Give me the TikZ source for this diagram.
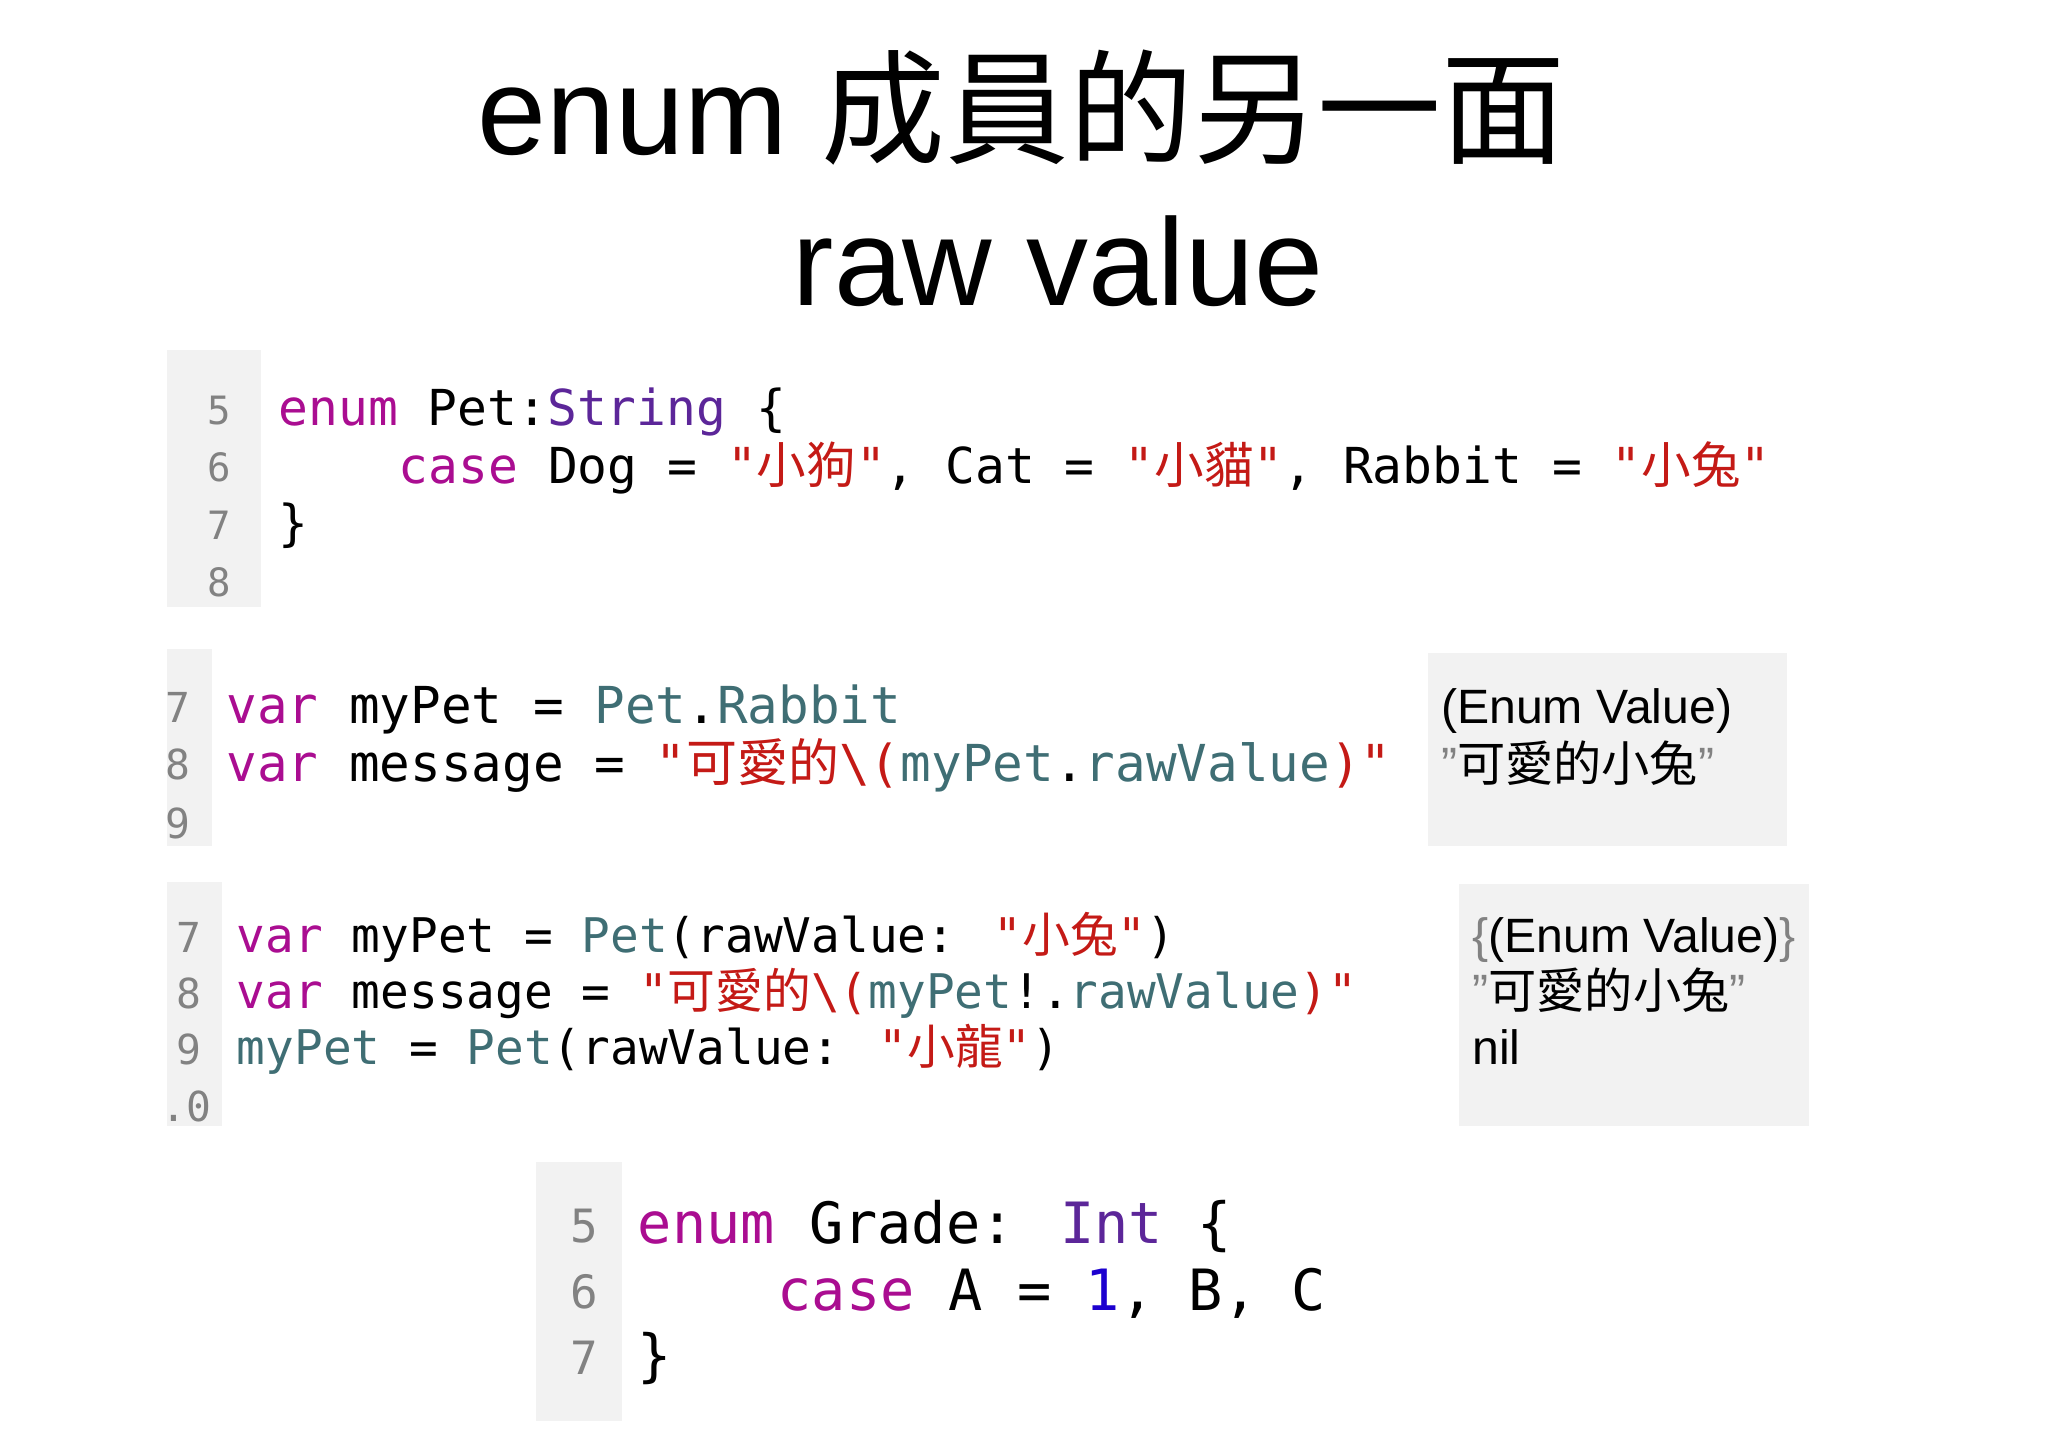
\documentclass[tikz,border=0pt]{standalone}
\usepackage{fontspec}
\setmainfont{Liberation Sans}
\newfontfamily\cjk{Noto Sans CJK TC}
\newfontfamily\mono{DejaVu Sans Mono}
\newcommand\CJ[1]{{\cjk #1}}
\definecolor{kwc}{RGB}{170,13,145}
\definecolor{tyc}{RGB}{92,38,153}
\definecolor{stc}{RGB}{196,26,22}
\definecolor{nmc}{RGB}{28,0,207}
\definecolor{tlc}{RGB}{63,110,116}
\definecolor{gut}{RGB}{242,242,242}
\definecolor{lnc}{RGB}{130,130,130}
\newcommand\kw[1]{\textcolor{kwc}{#1}}
\newcommand\ty[1]{\textcolor{tyc}{#1}}
\newcommand\st[1]{\textcolor{stc}{#1}}
\newcommand\nm[1]{\textcolor{nmc}{#1}}
\newcommand\tl[1]{\textcolor{tlc}{#1}}
\newcommand\bs{\symbol{92}}
\newcommand\gq{\textcolor{lnc}{\symbol{34}}}
\begin{document}
\begin{tikzpicture}[x=0.02cm,y=-0.02cm,
  cA/.style={anchor=base west,inner sep=0,font=\mono\fontsize{21.6}{24}\selectfont},
  cB/.style={anchor=base west,inner sep=0,font=\mono\fontsize{22.2}{26}\selectfont},
  cC/.style={anchor=base west,inner sep=0,font=\mono\fontsize{20.8}{24}\selectfont},
  cD/.style={anchor=base west,inner sep=0,font=\mono\fontsize{24.8}{28}\selectfont},
  lnA/.style={cA,anchor=base,text=lnc,font=\mono\fontsize{17}{20}\selectfont},
  lnB/.style={lnA,font=\mono\fontsize{18}{20}\selectfont},
  lnD/.style={lnA,font=\mono\fontsize{20}{22}\selectfont},
  res/.style={anchor=base west,inner sep=0,font=\fontsize{21}{24}\selectfont},
  gbox/.style={fill=gut,draw=none}]
\useasboundingbox (0,0) rectangle (1568,1108);
\fill[white] (0,0) rectangle (1568,1108);
% title
\node[inner sep=0,font=\fontsize{54}{60}\selectfont] (t1) at (782,82) {enum \CJ{成員的另一面}};
\node[inner sep=0,font=\fontsize{54}{60}\selectfont] (t2) at (810,200) {raw value};
% block 1
\fill[gbox] (128,268) rectangle (200,465);
\node[lnA] (a5) at (168,325) {5};
\node[lnA] (a6) at (168,369) {6};
\node[lnA] (a7) at (168,413) {7};
\node[lnA] (a8) at (168,457) {8};
\node[cA] (l1) at (213,326) {\kw{enum} Pet:\ty{String} \{};
\node[cA] (l2) at (305,370) {\kw{case} Dog = \st{"\CJ{小狗}"}, Cat = \st{"\CJ{小貓}"}, Rabbit = \st{"\CJ{小兔}"}};
\node[cA] (l3) at (213,414) {\}};
% block 2
\fill[gbox] (128,497) rectangle (162,648);
\node[lnB] (b7) at (136,553) {7};
\node[lnB] (b8) at (136,597) {8};
\node[lnB] (b9) at (136,642) {9};
\node[cB] (m1) at (173,554) {\kw{var} myPet = \tl{Pet}.\tl{Rabbit}};
\node[cB] (m2) at (173,598) {\kw{var} message = \st{"\CJ{可愛的}\bs(}\tl{myPet}.\tl{rawValue}\st{)"}};
\fill[gbox] (1093,500) rectangle (1368,648);
\node[res] (r1) at (1103,554) {(Enum Value)};
\node[res] (r2) at (1103,598) {\gq\CJ{可愛的小兔}\gq};
% block 3
\fill[gbox] (128,675) rectangle (170,862);
\node[lnB] (c7) at (145,729) {7};
\node[lnB] (c8) at (145,772) {8};
\node[lnB] (c9) at (145,815) {9};
\node[lnB] (c0) at (143,859) {.0};
\node[cC] (n1) at (181,729) {\kw{var} myPet = \tl{Pet}(rawValue: \st{"\CJ{小兔}"})};
\node[cC] (n2) at (181,772) {\kw{var} message = \st{"\CJ{可愛的}\bs(}\tl{myPet}!.\tl{rawValue}\st{)"}};
\node[cC] (n3) at (181,815) {\tl{myPet} = \tl{Pet}(rawValue: \st{"\CJ{小龍}"})};
\fill[gbox] (1117,677) rectangle (1385,862);
\node[res] (s1) at (1127,729) {\textcolor{lnc}{\{}(Enum Value)\textcolor{lnc}{\}}};
\node[res] (s2) at (1127,772) {\gq\CJ{可愛的小兔}\gq};
\node[res] (s3) at (1127,815) {nil};
% block 4
\fill[gbox] (410,890) rectangle (476,1088);
\node[lnD] (d5) at (447,951) {5};
\node[lnD] (d6) at (447,1002) {6};
\node[lnD] (d7) at (447,1052) {7};
\node[cD] (o1) at (488,952) {\kw{enum} Grade: \ty{Int} \{};
\node[cD] (o2) at (595,1003) {\kw{case} A = \nm{1}, B, C};
\node[cD] (o3) at (488,1053) {\}};
\end{tikzpicture}
\end{document}
